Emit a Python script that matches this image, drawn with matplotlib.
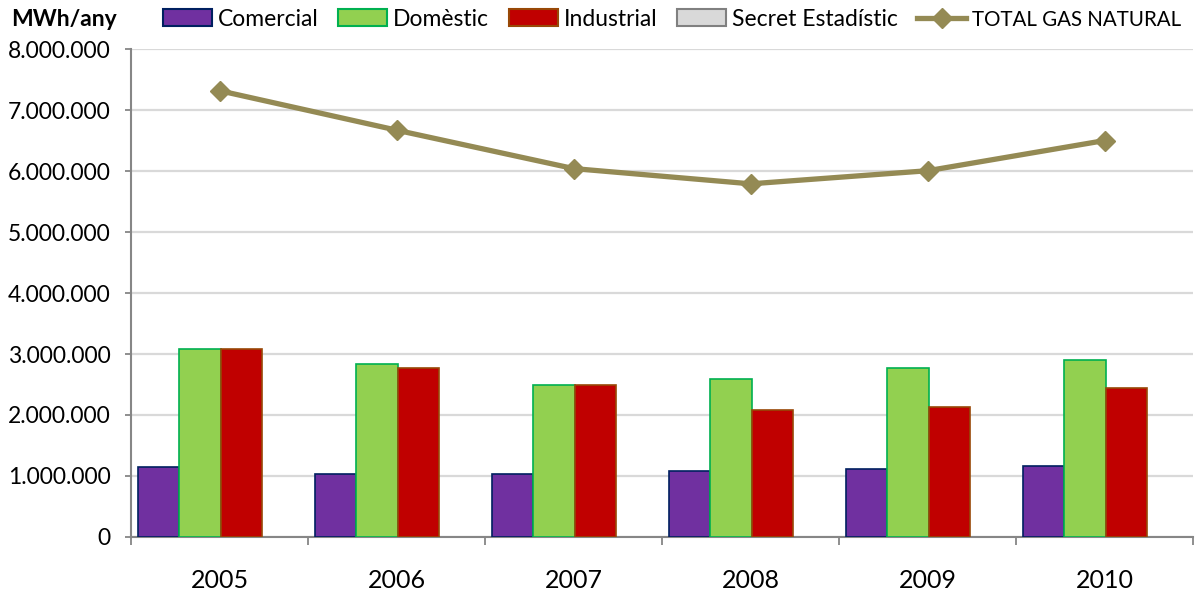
"""
Consum de gas natural per sector (MWh/any), 2005-2010.
Barres per sector i linia amb el total.
"""
import matplotlib
matplotlib.use("Agg")
import matplotlib.pyplot as plt
from matplotlib.patches import Patch
from matplotlib.lines import Line2D
from matplotlib.ticker import FuncFormatter, MultipleLocator, FixedLocator
import numpy as np

# dades llegides del grafic (MWh/any)
anys = ["2005", "2006", "2007", "2008", "2009", "2010"]
comercial = [1140000, 1040000, 1040000, 1075000, 1108000, 1169000]
domestic = [3087000, 2836000, 2497000, 2584000, 2775000, 2900000]
industrial = [3090000, 2775000, 2497000, 2090000, 2125000, 2436000]
secret = [0, 0, 0, 0, 0, 0]
total = [7317000, 6670000, 6040000, 5790000, 6005000, 6500000]

series = ["Comercial", "Domèstic", "Industrial", "Secret Estadístic"]
colors = ["#7030A0", "#92D050", "#C00000", "#D9D9D9"]
edges = ["#002060", "#00B050", "#984807", "#808080"]

plt.rcParams["font.family"] = ["Lato", "DejaVu Sans"]


def format_miles(v, pos):
    return f"{int(round(v)):,}".replace(",", ".")


def grafic():
    fig = plt.figure(figsize=(11.95, 5.95), dpi=100)
    ax = fig.add_axes([0.1096, 0.0975, 0.889, 0.8201])

    x = np.arange(len(anys))
    w = 0.234
    valors = [comercial, domestic, industrial, secret]
    for i, (vals, c, e) in enumerate(zip(valors, colors, edges)):
        lw = 1.2 if any(vals) else 0
        ax.bar(x + (i - 1.5) * w + 0.006, vals, width=w, color=c,
               edgecolor=e, linewidth=lw, zorder=3)

    ax.plot(x, total, color="#948A54", linewidth=3.8, marker="D",
            markersize=10.5, zorder=4)

    ax.set_xlim(-0.5, len(anys) - 0.5)
    ax.set_ylim(0, 8000000)
    ax.yaxis.set_major_locator(MultipleLocator(1000000))
    ax.yaxis.set_major_formatter(FuncFormatter(format_miles))
    ax.grid(axis="y", color="#D9D9D9", linewidth=1.6, zorder=0)
    ax.set_axisbelow(True)

    ax.set_xticks(x)
    ax.set_xticklabels(anys)
    ax.xaxis.set_minor_locator(FixedLocator(np.arange(-0.5, len(anys), 1.0)))
    ax.tick_params(axis="x", which="major", length=0, pad=23, labelsize=18)
    ax.tick_params(axis="x", which="minor", length=6, width=1.3,
                   color="#868686", direction="out")
    ax.tick_params(axis="y", length=4.5, width=1.3, color="#868686",
                   pad=10, labelsize=16.5)

    for s in ["top", "right"]:
        ax.spines[s].set_visible(False)
    for s in ["left", "bottom"]:
        ax.spines[s].set_color("#868686")
        ax.spines[s].set_linewidth(1.5)

    fig.text(0.0096, 0.968, "MWh/any", fontsize=16.5, fontweight="bold",
             va="center", ha="left")

    handles = [Patch(facecolor=c, edgecolor=e, linewidth=1.5)
               for c, e in zip(colors, edges)]
    handles.append(Line2D([], [], color="#948A54", linewidth=3.8,
                          marker="D", markersize=10.5))
    labels = series + ["TOTAL GAS NATURAL"]
    leg = fig.legend(handles, labels, ncol=5, loc="center left",
                     bbox_to_anchor=(0.1364, 0.968), frameon=False,
                     fontsize=16.5, handlelength=2.14, handleheight=0.7,
                     handletextpad=0.26, columnspacing=0.85,
                     borderaxespad=0, borderpad=0)
    # Lato es mes ample que la lletra original: reduim l'ultim text
    leg.get_texts()[-1].set_fontsize(14.8)

    fig.savefig("out.png", dpi=100)


if __name__ == "__main__":
    grafic()
